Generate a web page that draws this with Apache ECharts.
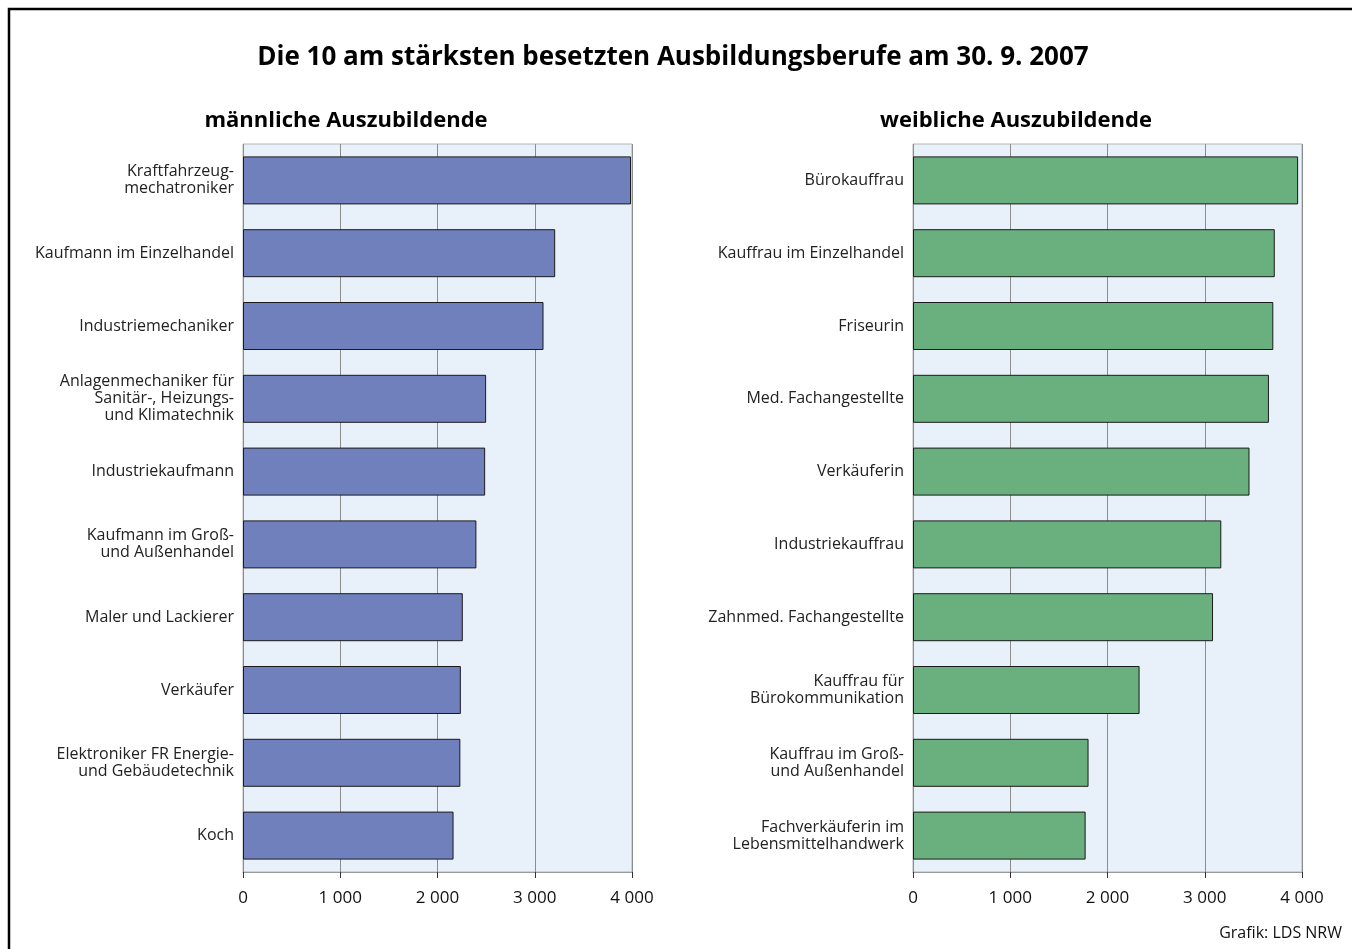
<!DOCTYPE html>
<html>
<head>
<meta charset="utf-8">
<script src="https://cdn.jsdelivr.net/npm/echarts@6/dist/echarts.min.js"></script>
<style>
  html, body { margin: 0; padding: 0; background: #fff; }
  #chart { width: 1352px; height: 949px; }
</style>
</head>
<body>
<div id="chart"></div>
<script>
// data
const maleJobs = [
  "Kraftfahrzeug-\nmechatroniker",
  "Kaufmann im Einzelhandel",
  "Industriemechaniker",
  "Anlagenmechaniker für\nSanitär-, Heizungs-\nund Klimatechnik",
  "Industriekaufmann",
  "Kaufmann im Groß-\nund Außenhandel",
  "Maler und Lackierer",
  "Verkäufer",
  "Elektroniker FR Energie-\nund Gebäudetechnik",
  "Koch"
];
const maleValues = [3990, 3210, 3090, 2500, 2490, 2400, 2260, 2240, 2235, 2165];

const femaleJobs = [
  "Bürokauffrau",
  "Kauffrau im Einzelhandel",
  "Friseurin",
  "Med. Fachangestellte",
  "Verkäuferin",
  "Industriekauffrau",
  "Zahnmed. Fachangestellte",
  "Kauffrau für\nBürokommunikation",
  "Kauffrau im Groß-\nund Außenhandel",
  "Fachverkäuferin im\nLebensmittelhandwerk"
];
const femaleValues = [3960, 3720, 3705, 3660, 3460, 3170, 3085, 2330, 1805, 1775];

const xTicks = [0, 1000, 2000, 3000, 4000];

const FONT = '"Open Sans", "Noto Sans", sans-serif';

const chart = echarts.init(document.getElementById("chart"), null, {
  width: 1352,
  height: 949,
});

function fmt(v) {
  return String(v).replace(/\B(?=(\d{3})+(?!\d))/g, " ");
}

function valueAxis(gridIndex) {
  return {
    type: "value",
    gridIndex: gridIndex,
    min: xTicks[0],
    max: xTicks[xTicks.length - 1],
    interval: 1000,
    axisLine: { show: true, lineStyle: { color: "#9a9a9a", width: 1 } },
    axisTick: { show: true, length: 6, lineStyle: { color: "#333" } },
    axisLabel: {
      fontFamily: FONT,
      fontSize: 17,
      color: "#111",
      margin: 18,
      formatter: fmt,
    },
    splitLine: { show: true, lineStyle: { color: "#8c8c8c", width: 1 } },
  };
}

function catAxis(gridIndex, data) {
  return {
    type: "category",
    gridIndex: gridIndex,
    data: data,
    inverse: true,
    axisLine: { show: false },
    axisTick: { show: false },
    axisLabel: {
      fontFamily: FONT,
      fontSize: 16,
      color: "#222",
      margin: 9,
      lineHeight: 17,
      align: "right",
      padding: [5, 0, 0, 0],
    },
  };
}

function barSeries(idx, values, color) {
  return {
    type: "bar",
    xAxisIndex: idx,
    yAxisIndex: idx,
    data: values,
    barWidth: 48,
    itemStyle: { color: color, borderColor: "#1a1a1a", borderWidth: 1 },
    emphasis: { disabled: true },
  };
}

chart.setOption({
  animation: false,
  backgroundColor: "#fff",
  grid: [
    {
      left: 243, top: 144, width: 389, height: 728,
      show: true, backgroundColor: "#e8f0fa",
      borderColor: "#b5b5b5", borderWidth: 1,
    },
    {
      left: 913, top: 144, width: 389, height: 728,
      show: true, backgroundColor: "#e8f0fa",
      borderColor: "#b5b5b5", borderWidth: 1,
    },
  ],
  xAxis: [valueAxis(0), valueAxis(1)],
  yAxis: [catAxis(0, maleJobs), catAxis(1, femaleJobs)],
  series: [
    barSeries(0, maleValues, "#6f80bd"),
    barSeries(1, femaleValues, "#6ab07f"),
  ],
  graphic: [
    {
      type: "rect",
      silent: true,
      shape: { x: 9, y: 9, width: 1400, height: 1000 },
      style: { fill: null, stroke: "#000", lineWidth: 2.5 },
    },
    {
      type: "text",
      x: 673, y: 58,
      style: {
        text: "Die 10 am stärksten besetzten Ausbildungsberufe am 30. 9. 2007",
        font: "bold 26px " + FONT,
        fill: "#000",
        align: "center",
        verticalAlign: "middle",
      },
    },
    {
      type: "text",
      x: 346, y: 121,
      style: {
        text: "männliche Auszubildende",
        font: "bold 22px " + FONT,
        fill: "#000",
        align: "center",
        verticalAlign: "middle",
      },
    },
    {
      type: "text",
      x: 1016, y: 121,
      style: {
        text: "weibliche Auszubildende",
        font: "bold 22px " + FONT,
        fill: "#000",
        align: "center",
        verticalAlign: "middle",
      },
    },
    {
      type: "text",
      x: 1342, y: 933,
      style: {
        text: "Grafik: LDS NRW",
        font: "16px " + FONT,
        fill: "#111",
        align: "right",
        verticalAlign: "middle",
      },
    },
  ],
});
</script>
</body>
</html>
